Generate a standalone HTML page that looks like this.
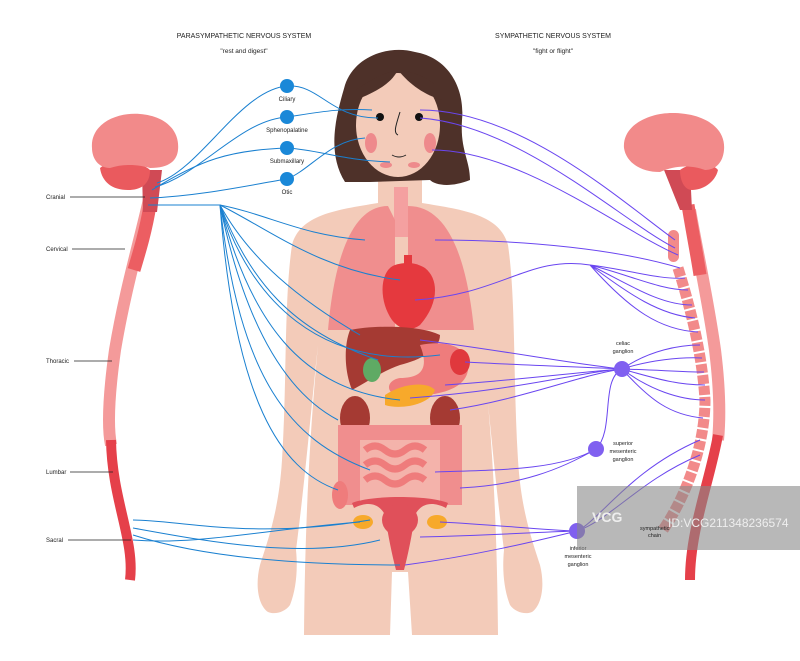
<!DOCTYPE html>
<html><head><meta charset="utf-8"><style>
html,body{margin:0;padding:0;background:#fff}
svg{display:block}
text{font-family:"Liberation Sans",sans-serif;fill:#222}
</style></head><body>
<svg width="800" height="661" viewBox="0 0 800 661" xmlns="http://www.w3.org/2000/svg">
<rect width="800" height="661" fill="#fff"/>
<text x="244" y="38" font-size="7" text-anchor="middle">PARASYMPATHETIC NERVOUS SYSTEM</text>
<text x="244" y="53" font-size="6.5" text-anchor="middle">"rest and digest"</text>
<text x="553" y="38" font-size="7" text-anchor="middle">SYMPATHETIC NERVOUS SYSTEM</text>
<text x="553" y="53" font-size="6.5" text-anchor="middle">"fight or flight"</text>

<!-- body -->
<path d="M378,180 L378,203 C335,210 300,215 292,245 C284,300 287,380 282,460 C279,510 268,540 260,565 C255,585 258,605 268,612 C275,615 285,612 290,605 C296,590 298,570 296,550 C305,480 310,420 318,345 C310,430 305,520 304,635 L390,635 L392,572 L408,572 L412,635 L498,635 C497,520 492,430 482,345 C490,420 495,480 504,550 C502,570 504,590 510,605 C515,612 525,615 532,612 C542,605 545,585 540,565 C532,540 521,510 518,460 C513,380 516,300 508,245 C500,215 465,210 422,203 L422,180 Z" fill="#f3cbb9"/>
<path d="M345,182 C325,150 338,110 345,85 C355,55 390,45 415,52 C450,58 465,90 462,120 C460,150 470,160 470,180 C450,188 435,185 430,180 L370,182 Z" fill="#4e3129"/>
<ellipse cx="398" cy="125" rx="42" ry="52" fill="#f3cbb9"/>
<path d="M398,70 C390,85 375,92 356,100 L356,90 C370,80 385,72 398,70 Z" fill="#4e3129"/>
<path d="M398,70 C410,85 425,95 442,100 L442,90 C430,78 410,70 398,70 Z" fill="#4e3129"/>
<circle cx="380" cy="117" r="4" fill="#111"/>
<circle cx="419" cy="117" r="4" fill="#111"/>
<path d="M400,112 C396,125 393,133 398,135" stroke="#222" fill="none" stroke-width="1"/>
<path d="M392,155 Q399,159 406,155" stroke="#222" fill="none" stroke-width="1"/>
<ellipse cx="371" cy="143" rx="6" ry="10" fill="#ee8a8c"/>
<ellipse cx="430" cy="143" rx="6" ry="10" fill="#ee8a8c"/>
<ellipse cx="386" cy="165" rx="6" ry="3" fill="#ee8a8c"/>
<ellipse cx="414" cy="165" rx="6" ry="3" fill="#ee8a8c"/>
<rect x="394" y="187" width="14" height="50" fill="#f4a0a0"/>
<path d="M388,206 C355,206 335,250 328,330 L395,330 L395,220 Z" fill="#f08e8e"/>
<path d="M408,206 C445,206 466,250 474,330 L408,330 Z" fill="#f08e8e"/>
<path d="M395,265 C380,270 378,300 392,320 C400,330 410,332 420,325 C438,305 440,280 425,268 C415,262 405,262 395,265 Z" fill="#e5393e"/>
<rect x="404" y="255" width="8" height="20" fill="#e5393e"/>
<path d="M350,330 C375,325 420,325 440,335 C440,350 420,360 400,365 C385,370 370,380 352,390 C344,370 344,345 350,330 Z" fill="#a53a33"/>
<ellipse cx="372" cy="370" rx="9" ry="12" fill="#5faa64"/>
<path d="M420,345 C445,340 470,345 468,370 C465,392 430,398 395,395 C385,390 388,380 400,378 C420,378 430,370 420,345 Z" fill="#ef7c7c"/>
<ellipse cx="460" cy="362" rx="10" ry="13" fill="#e0383d"/>
<path d="M385,395 C400,385 425,380 435,390 C430,405 400,410 385,405 Z" fill="#f7a92b"/>
<ellipse cx="355" cy="418" rx="15" ry="22" fill="#a53a33"/>
<ellipse cx="445" cy="418" rx="15" ry="22" fill="#a53a33"/>
<path d="M338,425 L462,425 L462,505 L440,505 L440,440 L360,440 L360,505 L338,505 Z" fill="#f08e8e"/>
<rect x="360" y="440" width="80" height="60" fill="#f4b3ab"/>
<path d="M365,450 q10,-8 20,0 t20,0 t20,0 M365,465 q10,-8 20,0 t20,0 t20,0 M365,480 q10,-8 20,0 t20,0 t20,0" stroke="#ef7c7c" stroke-width="7" fill="none"/>
<ellipse cx="340" cy="495" rx="8" ry="14" fill="#ef7c7c"/>
<path d="M352,503 C370,495 430,495 448,503 L446,508 C430,500 420,505 415,515 C412,535 408,555 404,570 L396,570 C392,555 388,535 385,515 C380,505 370,500 354,508 Z" fill="#e0505a"/>
<ellipse cx="400" cy="520" rx="18" ry="16" fill="#e0505a"/>
<ellipse cx="363" cy="522" rx="10" ry="7" fill="#f7a92b"/>
<ellipse cx="437" cy="522" rx="10" ry="7" fill="#f7a92b"/>

<!-- left spine -->
<path d="M150,195 C140,240 125,290 115,350 C108,400 108,430 111,445" stroke="#f49a9a" stroke-width="12" fill="none"/>
<path d="M150,205 C146,230 140,250 134,270" stroke="#ec5e62" stroke-width="13" fill="none"/>
<path d="M111,440 C112,500 135,540 130,580" stroke="#e5404a" stroke-width="10" fill="none"/>
<path d="M142,170 L162,170 L157,212 L143,212 Z" fill="#d04a55"/>
<path d="M100,168 C108,160 140,160 150,170 C150,185 140,190 128,190 C112,190 102,182 100,168 Z" fill="#ea5a5e"/>
<path d="M92,148 C90,125 115,112 140,114 C165,116 180,130 178,150 C177,160 170,168 150,168 C140,165 125,163 110,168 C98,168 92,158 92,148 Z" fill="#f28a8a"/>
<!-- right spine -->
<path d="M690,210 C697,250 708,300 715,350 C720,390 720,420 718,440" stroke="#f49a9a" stroke-width="12" fill="none"/>
<path d="M688,205 C692,230 697,255 700,275" stroke="#ec5e62" stroke-width="13" fill="none"/>
<path d="M718,435 C710,480 690,530 690,580" stroke="#e5404a" stroke-width="10" fill="none"/>
<path d="M664,170 L690,170 L692,210 L680,210 Z" fill="#d04a55"/>
<path d="M680,170 C690,162 712,162 718,170 C715,183 702,190 692,190 C684,190 680,180 680,170 Z" fill="#ea5a5e"/>
<path d="M624,148 C622,125 650,112 675,113 C705,114 726,128 724,150 C723,162 716,170 705,170 C692,165 675,165 660,172 C640,172 626,162 624,148 Z" fill="#f28a8a"/>
<rect x="668" y="230" width="11" height="32" rx="5.5" fill="#f28a8a"/>
<path d="M678,268 C688,300 702,350 705,400 C705,440 690,490 663,530" stroke="#f28a8a" stroke-width="11" stroke-dasharray="9 2" fill="none"/>

<g stroke="#1a80d0" stroke-width="1" fill="none">
<path d="M157,183 C200,170 240,90 287,86 C320,84 330,118 378,118"/>
<path d="M155,187 C200,175 240,120 287,117 C320,112 340,108 372,110"/>
<path d="M152,190 C200,160 230,150 287,148 C320,150 340,160 390,162"/>
<path d="M150,198 C200,196 250,185 287,179 C310,170 330,140 365,138"/>
<path d="M148,205 L220,205"/>
<path d="M220,205 C270,215 300,235 365,240"/>
<path d="M220,205 C270,230 320,270 400,280"/>
<path d="M220,205 C250,260 300,300 360,335"/>
<path d="M220,205 C250,280 290,330 378,360"/>
<path d="M220,205 C250,300 320,370 440,355"/>
<path d="M220,205 C250,320 300,390 400,400"/>
<path d="M220,205 C250,350 300,400 338,420"/>
<path d="M220,205 C240,380 290,440 370,470"/>
<path d="M220,205 C235,400 280,470 338,490"/>
<path d="M133,520 C180,520 250,540 370,520"/>
<path d="M133,528 C200,540 300,560 380,540"/>
<path d="M133,535 C180,550 260,565 400,565"/>
<path d="M133,540 C200,545 260,530 360,522"/>
</g>
<g fill="#1a88d8"><circle cx="287" cy="86" r="7"/><circle cx="287" cy="117" r="7"/><circle cx="287" cy="148" r="7"/><circle cx="287" cy="179" r="7"/></g>
<g font-size="6" text-anchor="middle"><text x="287" y="101">Ciliary</text><text x="287" y="132">Sphenopalatine</text><text x="287" y="163">Submaxillary</text><text x="287" y="194">Otic</text></g>

<g stroke="#6a46f0" stroke-width="1" fill="none">
<path d="M420,110 C520,110 620,200 675,240"/>
<path d="M420,118 C520,125 620,220 675,248"/>
<path d="M432,150 C520,150 620,230 678,255"/>
<path d="M435,240 C530,240 620,250 680,268"/>
<path d="M415,300 C500,295 530,255 590,265"/>
<path d="M590,265 C630,270 660,280 685,278 M590,265 C630,275 660,290 688,290 M590,265 C630,285 660,305 692,305 M590,265 C630,295 660,315 695,318 M590,265 C630,310 660,330 698,332"/>
<path d="M420,340 C500,350 580,365 622,369"/>
<path d="M465,362 C520,365 580,367 622,369"/>
<path d="M445,385 C520,380 580,372 622,369"/>
<path d="M410,398 C520,390 580,372 622,369"/>
<path d="M450,410 C520,400 580,375 622,369"/>
<path d="M622,369 C650,350 680,345 700,345 M622,369 C650,360 680,357 702,358 M622,369 C660,370 680,372 704,372 M622,369 C660,380 680,385 705,385 M622,369 C650,390 680,400 705,400 M622,369 C650,400 670,415 703,418"/>
<path d="M622,369 C600,380 615,430 596,449"/>
<path d="M435,472 C500,470 560,470 596,449"/>
<path d="M460,488 C520,485 560,470 596,449"/>
<path d="M577,531 C600,520 630,470 700,440 M577,531 C610,520 640,480 700,455"/>
<path d="M440,522 C500,525 540,530 577,531 M420,537 C500,535 540,532 577,531 M405,565 C480,555 540,540 577,531"/>
</g>
<g fill="#8060f0"><circle cx="622" cy="369" r="8"/><circle cx="596" cy="449" r="8"/><circle cx="577" cy="531" r="8"/></g>
<g font-size="5.5" text-anchor="middle"><text x="623" y="345">celiac</text><text x="623" y="353">ganglion</text>
<text x="623" y="445">superior</text><text x="623" y="453">mesenteric</text><text x="623" y="461">ganglion</text>
<text x="578" y="550">inferior</text><text x="578" y="558">mesenteric</text><text x="578" y="566">ganglion</text></g>

<g font-size="6" stroke-width="0.8"><text x="46" y="199">Cranial</text><line x1="70" y1="197" x2="145" y2="197" stroke="#222"/>
<text x="46" y="251">Cervical</text><line x1="72" y1="249" x2="125" y2="249" stroke="#222"/>
<text x="46" y="363">Thoracic</text><line x1="74" y1="361" x2="112" y2="361" stroke="#222"/>
<text x="46" y="474">Lumbar</text><line x1="70" y1="472" x2="113" y2="472" stroke="#222"/>
<text x="46" y="542">Sacral</text><line x1="68" y1="540" x2="131" y2="540" stroke="#222"/></g>

<rect x="577" y="486" width="223" height="64" fill="#888" opacity="0.6"/>
<text x="592" y="522" font-size="14" font-weight="bold" style="fill:#eee">VCG</text>
<text x="668" y="527" font-size="12" style="fill:#eee">ID:VCG211348236574</text>
<text x="640" y="530" font-size="5.5">sympathetic</text><text x="648" y="537" font-size="5.5">chain</text>
</svg>
</body></html>
